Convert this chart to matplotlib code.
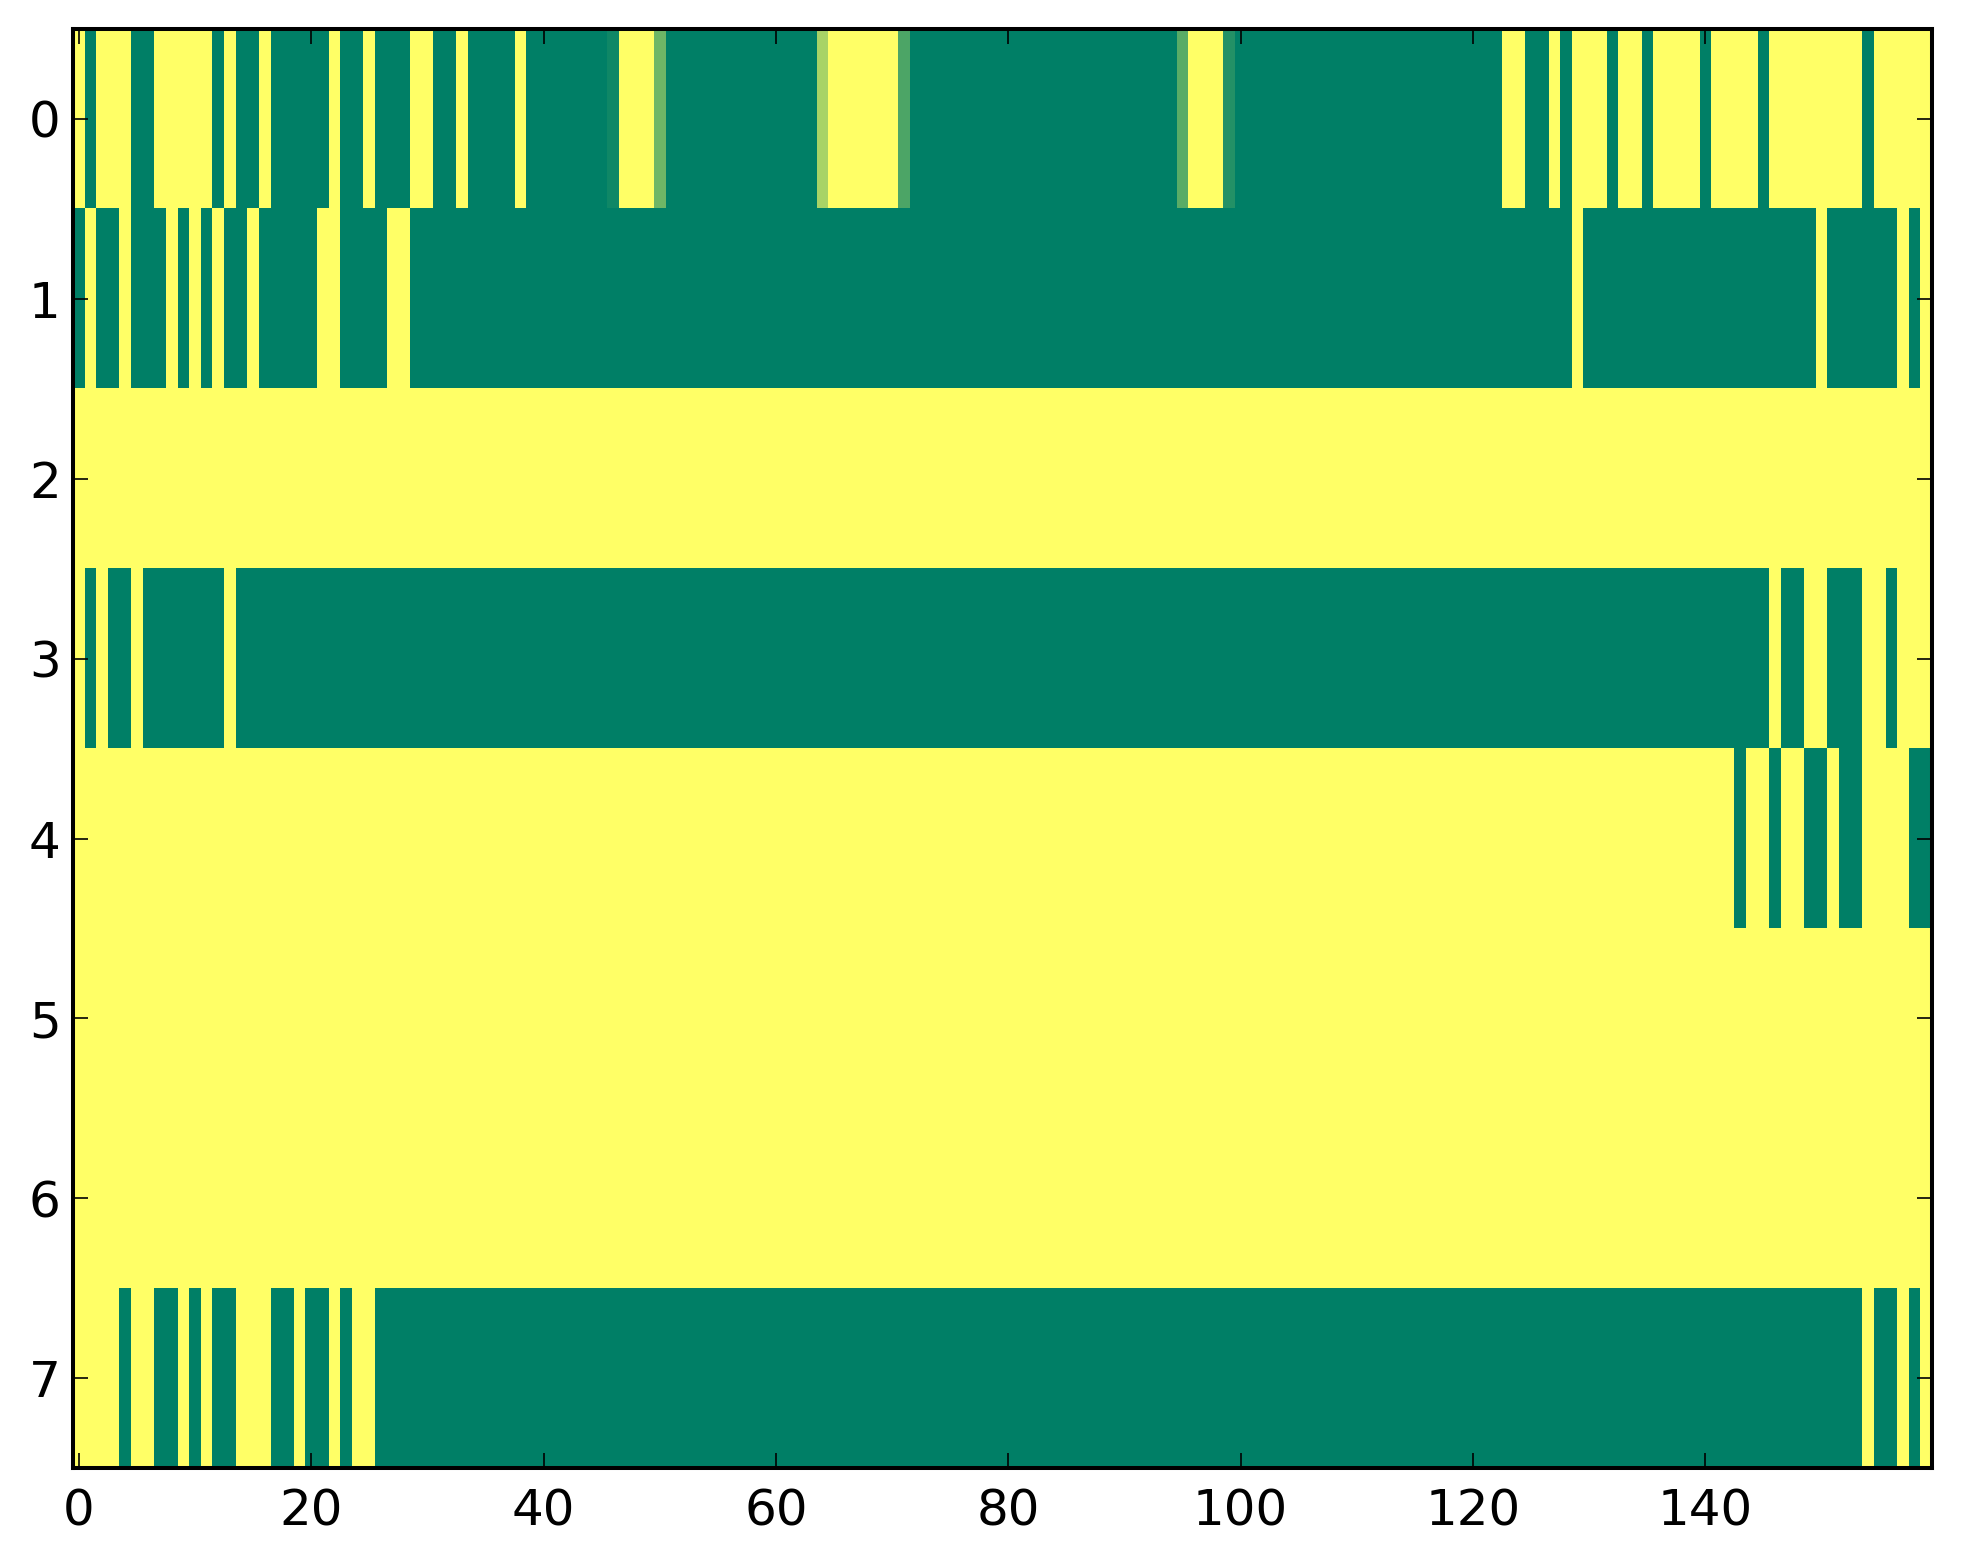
import numpy as np
import matplotlib
matplotlib.use('Agg')
import matplotlib.pyplot as plt

# 8 x 160 grid, 1 = yellow, 0 = green (summer colormap)
row0 = [1, 0, 1, 1, 1, 0, 0, 1, 1, 1, 1, 1, 0, 1, 0, 0, 1, 0, 0, 0,
        0, 0, 1, 0, 0, 1, 0, 0, 0, 1, 1, 0, 0, 1, 0, 0, 0, 0, 1, 0,
        0, 0, 0, 0, 0, 0, 0.06, 1, 1, 1, 0.43, 0, 0, 0, 0, 0, 0, 0, 0, 0,
        0, 0, 0, 0, 0.66, 1, 1, 1, 1, 1, 1, 0.3, 0, 0, 0, 0, 0, 0, 0, 0,
        0, 0, 0, 0, 0, 0, 0, 0, 0, 0, 0, 0, 0, 0, 0, 0.35, 1, 1, 1, 0.14,
        0, 0, 0, 0, 0, 0, 0, 0, 0, 0, 0, 0, 0, 0, 0, 0, 0, 0, 0, 0,
        0, 0, 0, 1, 1, 0, 0, 1, 0, 1, 1, 1, 0, 1, 1, 0, 1, 1, 1, 1,
        0, 1, 1, 1, 1, 0, 1, 1, 1, 1, 1, 1, 1, 1, 0, 1, 1, 1, 1, 1]

row1 = [0, 1, 0, 0, 1, 0, 0, 0, 1, 0, 1, 0, 1, 0, 0, 1, 0, 0, 0, 0,
        0, 1, 1, 0, 0, 0, 0, 1, 1, 0, 0, 0, 0, 0, 0, 0, 0, 0, 0, 0,
        0, 0, 0, 0, 0, 0, 0, 0, 0, 0, 0, 0, 0, 0, 0, 0, 0, 0, 0, 0,
        0, 0, 0, 0, 0, 0, 0, 0, 0, 0, 0, 0, 0, 0, 0, 0, 0, 0, 0, 0,
        0, 0, 0, 0, 0, 0, 0, 0, 0, 0, 0, 0, 0, 0, 0, 0, 0, 0, 0, 0,
        0, 0, 0, 0, 0, 0, 0, 0, 0, 0, 0, 0, 0, 0, 0, 0, 0, 0, 0, 0,
        0, 0, 0, 0, 0, 0, 0, 0, 0, 1, 0, 0, 0, 0, 0, 0, 0, 0, 0, 0,
        0, 0, 0, 0, 0, 0, 0, 0, 0, 0, 1, 0, 0, 0, 0, 0, 0, 1, 0, 1]

row2 = [1, 1, 1, 1, 1, 1, 1, 1, 1, 1, 1, 1, 1, 1, 1, 1, 1, 1, 1, 1,
        1, 1, 1, 1, 1, 1, 1, 1, 1, 1, 1, 1, 1, 1, 1, 1, 1, 1, 1, 1,
        1, 1, 1, 1, 1, 1, 1, 1, 1, 1, 1, 1, 1, 1, 1, 1, 1, 1, 1, 1,
        1, 1, 1, 1, 1, 1, 1, 1, 1, 1, 1, 1, 1, 1, 1, 1, 1, 1, 1, 1,
        1, 1, 1, 1, 1, 1, 1, 1, 1, 1, 1, 1, 1, 1, 1, 1, 1, 1, 1, 1,
        1, 1, 1, 1, 1, 1, 1, 1, 1, 1, 1, 1, 1, 1, 1, 1, 1, 1, 1, 1,
        1, 1, 1, 1, 1, 1, 1, 1, 1, 1, 1, 1, 1, 1, 1, 1, 1, 1, 1, 1,
        1, 1, 1, 1, 1, 1, 1, 1, 1, 1, 1, 1, 1, 1, 1, 1, 1, 1, 1, 1]

row3 = [1, 0, 1, 0, 0, 1, 0, 0, 0, 0, 0, 0, 0, 1, 0, 0, 0, 0, 0, 0,
        0, 0, 0, 0, 0, 0, 0, 0, 0, 0, 0, 0, 0, 0, 0, 0, 0, 0, 0, 0,
        0, 0, 0, 0, 0, 0, 0, 0, 0, 0, 0, 0, 0, 0, 0, 0, 0, 0, 0, 0,
        0, 0, 0, 0, 0, 0, 0, 0, 0, 0, 0, 0, 0, 0, 0, 0, 0, 0, 0, 0,
        0, 0, 0, 0, 0, 0, 0, 0, 0, 0, 0, 0, 0, 0, 0, 0, 0, 0, 0, 0,
        0, 0, 0, 0, 0, 0, 0, 0, 0, 0, 0, 0, 0, 0, 0, 0, 0, 0, 0, 0,
        0, 0, 0, 0, 0, 0, 0, 0, 0, 0, 0, 0, 0, 0, 0, 0, 0, 0, 0, 0,
        0, 0, 0, 0, 0, 0, 1, 0, 0, 1, 1, 0, 0, 0, 1, 1, 0, 1, 1, 1]

row4 = [1, 1, 1, 1, 1, 1, 1, 1, 1, 1, 1, 1, 1, 1, 1, 1, 1, 1, 1, 1,
        1, 1, 1, 1, 1, 1, 1, 1, 1, 1, 1, 1, 1, 1, 1, 1, 1, 1, 1, 1,
        1, 1, 1, 1, 1, 1, 1, 1, 1, 1, 1, 1, 1, 1, 1, 1, 1, 1, 1, 1,
        1, 1, 1, 1, 1, 1, 1, 1, 1, 1, 1, 1, 1, 1, 1, 1, 1, 1, 1, 1,
        1, 1, 1, 1, 1, 1, 1, 1, 1, 1, 1, 1, 1, 1, 1, 1, 1, 1, 1, 1,
        1, 1, 1, 1, 1, 1, 1, 1, 1, 1, 1, 1, 1, 1, 1, 1, 1, 1, 1, 1,
        1, 1, 1, 1, 1, 1, 1, 1, 1, 1, 1, 1, 1, 1, 1, 1, 1, 1, 1, 1,
        1, 1, 1, 0, 1, 1, 0, 1, 1, 0, 0, 1, 0, 0, 1, 1, 1, 1, 0, 0]

row5 = list(row2)
row6 = list(row2)

row7 = [1, 1, 1, 1, 0, 1, 1, 0, 0, 1, 0, 1, 0, 0, 1, 1, 1, 0, 0, 1,
        0, 0, 1, 0, 1, 1, 0, 0, 0, 0, 0, 0, 0, 0, 0, 0, 0, 0, 0, 0,
        0, 0, 0, 0, 0, 0, 0, 0, 0, 0, 0, 0, 0, 0, 0, 0, 0, 0, 0, 0,
        0, 0, 0, 0, 0, 0, 0, 0, 0, 0, 0, 0, 0, 0, 0, 0, 0, 0, 0, 0,
        0, 0, 0, 0, 0, 0, 0, 0, 0, 0, 0, 0, 0, 0, 0, 0, 0, 0, 0, 0,
        0, 0, 0, 0, 0, 0, 0, 0, 0, 0, 0, 0, 0, 0, 0, 0, 0, 0, 0, 0,
        0, 0, 0, 0, 0, 0, 0, 0, 0, 0, 0, 0, 0, 0, 0, 0, 0, 0, 0, 0,
        0, 0, 0, 0, 0, 0, 0, 0, 0, 0, 0, 0, 0, 0, 1, 0, 0, 1, 0, 1]

x_ticks = [0, 20, 40, 60, 80, 100, 120, 140]
y_ticks = [0, 1, 2, 3, 4, 5, 6, 7]

grid = np.array([row0, row1, row2, row3, row4, row5, row6, row7], dtype=float)

fig = plt.figure(figsize=(1963 / 200, 1564 / 200), dpi=200)
ax = fig.add_axes([0.0373, 0.0612, 0.9468, 0.9203])

ax.imshow(grid, cmap='summer', vmin=0, vmax=1, aspect='auto', interpolation='nearest')

ax.set_xticks(x_ticks)
ax.set_yticks(y_ticks)
ax.tick_params(direction='in', top=True, right=True, length=5.4, width=0.6,
               labelsize=18)
ax.tick_params(axis='x', pad=7)
ax.tick_params(axis='y', pad=4.5)
for s in ax.spines.values():
    s.set_linewidth(1.45)

fig.savefig('out.png', dpi=200)
